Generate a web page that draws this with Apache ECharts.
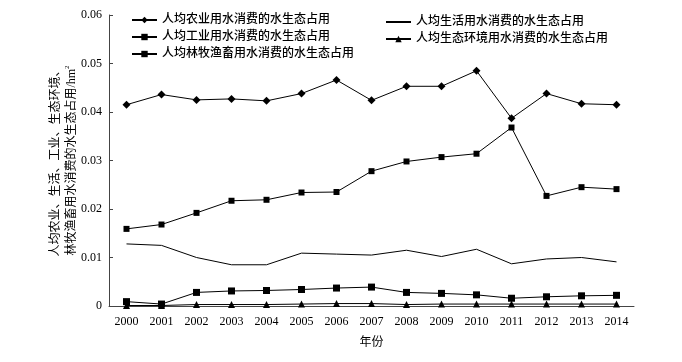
<!DOCTYPE html>
<html>
<head>
<meta charset="utf-8">
<script src="https://cdn.jsdelivr.net/npm/echarts@6/dist/echarts.min.js"></script>
<style>
html,body{margin:0;padding:0;background:#fff;}
#chart{width:682px;height:362px;}
</style>
</head>
<body>
<div id="chart"></div>
<script>
const years=['2000','2001','2002','2003','2004','2005','2006','2007','2008','2009','2010','2011','2012','2013','2014'];
const agriculture=[0.0415,0.0436,0.0425,0.0427,0.0423,0.0438,0.0466,0.0424,0.0453,0.0453,0.0485,0.0387,0.0438,0.0417,0.0415];
const domestic=[0.0128,0.0125,0.0100,0.0085,0.0085,0.0109,0.0107,0.0105,0.0115,0.0102,0.0117,0.0087,0.0097,0.0100,0.0091];
const industry=[0.0159,0.0168,0.0192,0.0217,0.0219,0.0234,0.0235,0.0278,0.0298,0.0307,0.0314,0.0368,0.0227,0.0245,0.0241];
const ecology=[0.0001,0.0001,0.0003,0.0003,0.0003,0.0004,0.0005,0.0005,0.0003,0.0004,0.0004,0.0004,0.0004,0.0004,0.0004];
const forestry=[0.0009,0.0004,0.0028,0.0031,0.0032,0.0034,0.0037,0.0039,0.0028,0.0026,0.0023,0.0016,0.0019,0.0021,0.0022];

const names=['人均农业用水消费的水生态占用','人均生活用水消费的水生态占用','人均工业用水消费的水生态占用','人均生态环境用水消费的水生态占用','人均林牧渔畜用水消费的水生态占用'];
const font='"Liberation Serif","Noto Sans CJK SC",serif';

const chart=echarts.init(document.getElementById('chart'));
const lineStyle={color:'#000',width:1};
const legendText={fontFamily:font,fontSize:12,color:'#000',fontWeight:500};
const option={
    backgroundColor:'#fff',
    animation:false,
    textStyle:{fontFamily:font,color:'#000'},
    grid:{left:109,right:48,top:15,bottom:56},
    legend:[
        {
            left:126,top:9,orient:'vertical',itemGap:5,itemWidth:25,itemHeight:8,
            data:[names[0],names[2],names[4]],
            textStyle:legendText
        },
        {
            left:380,top:11,orient:'vertical',itemGap:5,itemWidth:25,itemHeight:8,
            data:[{name:names[1],itemStyle:{opacity:0}},names[3]],
            textStyle:legendText
        }
    ],
    xAxis:{
        type:'category',
        data:years,
        name:'年份',
        nameLocation:'middle',
        nameGap:31,
        nameTextStyle:{fontFamily:font,fontSize:12,color:'#000'},
        axisLine:{lineStyle:{color:'#444',width:1}},
        axisTick:{show:false},
        axisLabel:{fontFamily:font,fontSize:12,color:'#000',margin:10,interval:0}
    },
    yAxis:{
        type:'value',
        min:0,max:0.06,interval:0.01,
        name:'人均农业、生活、工业、生态环境、\n林牧渔畜用水消费的水生态占用/hm{sup|2}',
        nameLocation:'middle',
        nameRotate:90,
        nameGap:29,
        nameMoveOverlap:false,
        nameTextStyle:{fontFamily:font,fontSize:12,color:'#000',lineHeight:16,
            rich:{sup:{fontSize:7,verticalAlign:'top',fontFamily:font}}},
        axisLine:{show:true,lineStyle:{color:'#444',width:1}},
        axisTick:{show:true,inside:true,length:4,lineStyle:{color:'#444'}},
        splitLine:{show:false},
        axisLabel:{fontFamily:font,fontSize:12,color:'#000',margin:7,
            formatter:v=>v===0?'0':v.toFixed(2)}
    },
    series:[
        {name:names[0],type:'line',data:agriculture,symbol:'diamond',symbolSize:8,
            lineStyle:lineStyle,itemStyle:{color:'#000'}},
        {name:names[1],type:'line',data:domestic,symbol:'none',
            lineStyle:lineStyle,itemStyle:{color:'#000'}},
        {name:names[2],type:'line',data:industry,symbol:'rect',symbolSize:6,
            lineStyle:lineStyle,itemStyle:{color:'#000'}},
        {name:names[3],type:'line',data:ecology,symbol:'triangle',symbolSize:7,
            lineStyle:lineStyle,itemStyle:{color:'#000'}},
        {name:names[4],type:'line',data:forestry,symbol:'rect',symbolSize:7,
            lineStyle:lineStyle,itemStyle:{color:'#000'}}
    ]
};
chart.setOption(option);
</script>
</body>
</html>
